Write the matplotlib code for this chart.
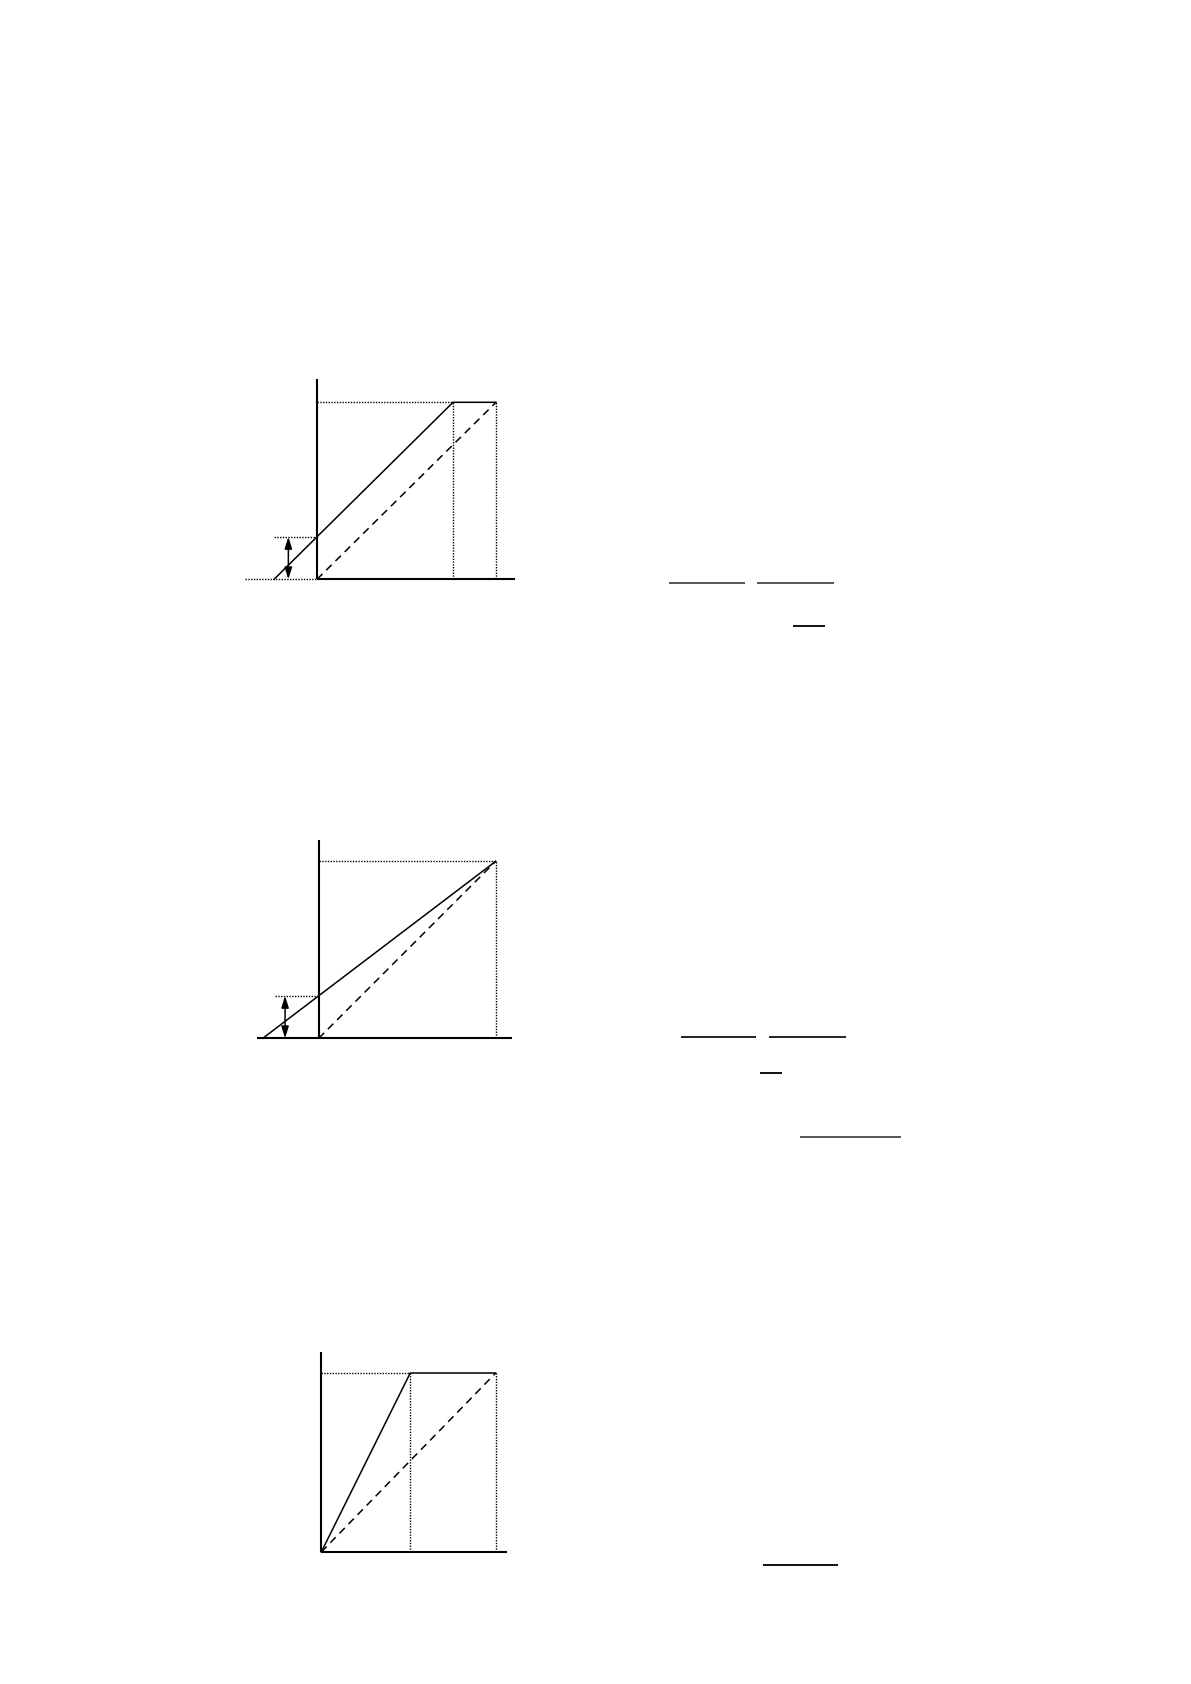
import matplotlib
matplotlib.use("Agg")
import matplotlib.pyplot as plt

FIG_W, FIG_H = 1191, 1684

# ---------------- data (unit coordinates: origin = (0,0), top-right reference point = (1,1)) ----
# Diagram 1: shifted supply line with kink
d1_solid_x = [-0.24, 0.76, 1.0]
d1_solid_y = [0.0, 1.0, 1.0]
d1_dash_x = [0.0, 1.0]
d1_dash_y = [0.0, 1.0]
d1_kink = 0.76
d1_intercept = 0.24
d1_left_dotted = -0.40
d1_arrow_x = -0.16

# Diagram 2: flatter line through (1,1)
d2_solid_x = [-0.316, 1.0]
d2_solid_y = [0.0, 1.0]
d2_dash_x = [0.0, 1.0]
d2_dash_y = [0.0, 1.0]
d2_intercept = 0.24
d2_intercept_from = -0.247
d2_arrow_x = -0.19
d2_axis_left = -0.35

# Diagram 3: steep line to kink then flat
d3_solid_x = [0.0, 0.51, 1.0]
d3_solid_y = [0.0, 1.0, 1.0]
d3_dash_x = [0.0, 1.0]
d3_dash_y = [0.0, 1.0]
d3_kink = 0.51

# fraction bars on the right (pixel positions on page)
frac_x0 = [669, 757, 793, 681, 769, 760, 800, 763]
frac_x1 = [745, 834, 825, 756, 846, 782, 901, 838]
frac_y = [583, 583, 626, 1037, 1037, 1073, 1137, 1565]
frac_c = ['#555555', '#555555', '#111111', '#222222', '#222222', '#111111', '#555555', '#111111']

# ---------------- figure ----------------
fig = plt.figure(figsize=(FIG_W / 100, FIG_H / 100), dpi=100)
fig.patch.set_facecolor('white')

AX_LW = 1.5
SOLID_LW = 1.1
DASH = (0, (5, 3.5))
DOT = (0, (1, 1))
DOT_LW = 1.0


def make_axes(ox, oy, ux, uy, xlim=(-0.6, 1.25), ylim=(-0.15, 1.25)):
    left = ox + xlim[0] * ux
    right = ox + xlim[1] * ux
    top = oy - ylim[1] * uy
    bottom = oy - ylim[0] * uy
    ax = fig.add_axes([left / FIG_W, 1 - bottom / FIG_H,
                       (right - left) / FIG_W, (bottom - top) / FIG_H])
    ax.set_xlim(*xlim)
    ax.set_ylim(*ylim)
    ax.axis('off')
    return ax


def dbl_arrow(ax, x, y0, y1):
    ax.annotate('', xy=(x, y1), xytext=(x, y0),
                arrowprops=dict(arrowstyle='<|-|>,head_length=0.7,head_width=0.22',
                                color='black', lw=1.1, shrinkA=0, shrinkB=0))


# Diagram 1
ax1 = make_axes(317, 579.3, 179, 177)
ax1.plot([0, 0], [0, 1.13], color='black', lw=AX_LW, solid_capstyle='butt')
ax1.plot([0, 1.106], [0, 0], color='black', lw=AX_LW, solid_capstyle='butt')
ax1.plot(d1_solid_x, d1_solid_y, color='black', lw=SOLID_LW)
ax1.plot(d1_dash_x, d1_dash_y, color='black', lw=SOLID_LW, linestyle=DASH)
ax1.plot([0, d1_kink], [1, 1], color='black', lw=DOT_LW, linestyle=DOT)
ax1.plot([d1_kink, d1_kink], [0, 1], color='black', lw=DOT_LW, linestyle=DOT)
ax1.plot([1, 1], [0, 1], color='black', lw=DOT_LW, linestyle=DOT)
ax1.plot([d1_solid_x[0], 0], [d1_intercept, d1_intercept], color='black', lw=DOT_LW, linestyle=DOT)
ax1.plot([d1_left_dotted, 0], [0, 0], color='black', lw=DOT_LW, linestyle=DOT)
dbl_arrow(ax1, d1_arrow_x, 0, d1_intercept)

# Diagram 2
ax2 = make_axes(318.7, 1038.3, 177, 177)
ax2.plot([0, 0], [0, 1.12], color='black', lw=AX_LW, solid_capstyle='butt')
ax2.plot([d2_axis_left, 1.09], [0, 0], color='black', lw=AX_LW, solid_capstyle='butt')
ax2.plot(d2_solid_x, d2_solid_y, color='black', lw=SOLID_LW)
ax2.plot(d2_dash_x, d2_dash_y, color='black', lw=SOLID_LW, linestyle=DASH)
ax2.plot([0, 1], [1, 1], color='black', lw=DOT_LW, linestyle=DOT)
ax2.plot([1, 1], [0, 1], color='black', lw=DOT_LW, linestyle=DOT)
ax2.plot([d2_intercept_from, 0], [d2_intercept, d2_intercept], color='black', lw=DOT_LW, linestyle=DOT)
dbl_arrow(ax2, d2_arrow_x, 0, d2_intercept)

# Diagram 3
ax3 = make_axes(321.3, 1552, 174.4, 179)
ax3.plot([0, 0], [0, 1.12], color='black', lw=AX_LW, solid_capstyle='butt')
ax3.plot([0, 1.065], [0, 0], color='black', lw=AX_LW, solid_capstyle='butt')
ax3.plot(d3_solid_x, d3_solid_y, color='black', lw=SOLID_LW)
ax3.plot(d3_dash_x, d3_dash_y, color='black', lw=SOLID_LW, linestyle=DASH)
ax3.plot([0, d3_kink], [1, 1], color='black', lw=DOT_LW, linestyle=DOT)
ax3.plot([d3_kink, d3_kink], [0, 1], color='black', lw=DOT_LW, linestyle=DOT)
ax3.plot([1, 1], [0, 1], color='black', lw=DOT_LW, linestyle=DOT)

# overlay for fraction bars (page pixel coordinates)
ov = fig.add_axes([0, 0, 1, 1])
ov.set_xlim(0, FIG_W)
ov.set_ylim(FIG_H, 0)
ov.axis('off')
for x0, x1, y, c in zip(frac_x0, frac_x1, frac_y, frac_c):
    ov.plot([x0, x1], [y, y], color=c, lw=1.4, solid_capstyle='butt')

fig.savefig('out.png', dpi=100, facecolor='white')
